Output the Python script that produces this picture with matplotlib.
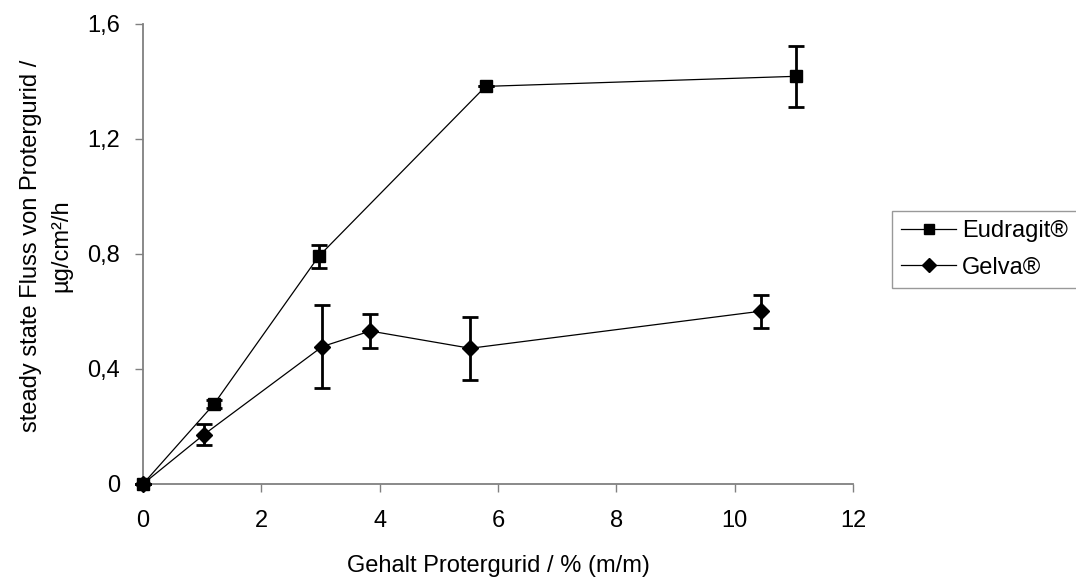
import matplotlib.pyplot as plt

plt.rcParams['font.family'] = ['Liberation Sans', 'DejaVu Sans']

# Steady-state Fluss in Abhängigkeit vom Wirkstoffgehalt
eudragit_x = [0.0, 1.2, 2.97, 5.79, 11.03]
eudragit_y = [0.0, 0.278, 0.792, 1.383, 1.418]
eudragit_err = [0.0, 0.015, 0.04, 0.0, 0.105]

gelva_x = [0.0, 1.03, 3.03, 3.84, 5.53, 10.44]
gelva_y = [0.0, 0.172, 0.478, 0.532, 0.472, 0.601]
gelva_err = [0.0, 0.037, 0.143, 0.058, 0.11, 0.057]

y_ticks = [0, 0.4, 0.8, 1.2, 1.6]
y_ticklabels = ['0', '0,4', '0,8', '1,2', '1,6']
x_ticks = [0, 2, 4, 6, 8, 10, 12]

fs = 17

fig = plt.figure(figsize=(10.76, 5.81), dpi=100)
ax = fig.add_axes([0.1329, 0.167, 0.66, 0.7917])

ax.errorbar(eudragit_x, eudragit_y, yerr=eudragit_err, color='black', lw=0.9,
            marker='s', markersize=8.5, elinewidth=2, capsize=6, capthick=2,
            label='Eudragit®', clip_on=False, zorder=3)
ax.errorbar(gelva_x, gelva_y, yerr=gelva_err, color='black', lw=0.9,
            marker='D', markersize=8, elinewidth=2, capsize=6, capthick=2,
            label='Gelva®', clip_on=False, zorder=3)

ax.set_xlim(0, 12)
ax.set_ylim(0, 1.6)
ax.set_xticks(x_ticks)
ax.set_yticks(y_ticks)
ax.set_yticklabels(y_ticklabels)

for side in ['top', 'right']:
    ax.spines[side].set_visible(False)
for side in ['left', 'bottom']:
    ax.spines[side].set_color('#808080')
    ax.spines[side].set_linewidth(1.3)

ax.tick_params(axis='both', direction='out', length=5.5, width=1, color='#808080',
               labelsize=fs)
ax.tick_params(axis='x', pad=13)
ax.tick_params(axis='y', pad=11)

ax.set_xlabel('Gehalt Protergurid / % (m/m)', fontsize=fs)
ax.xaxis.set_label_coords(0.5, -0.155)
ax.set_ylabel('steady state Fluss von Protergurid /\nµg/cm²/h', fontsize=fs,
              linespacing=1.45)
ax.yaxis.set_label_coords(-0.1, 0.517)

# Legende rechts neben dem Diagramm
handles, labels = ax.get_legend_handles_labels()
handles = [h[0] for h in handles]
leg = fig.legend(handles, labels, loc='upper left', bbox_to_anchor=(892 / 1076, 1 - 211 / 581),
                 fontsize=fs, frameon=True, fancybox=False, edgecolor='#808080',
                 handlelength=2.33, handletextpad=0.25, borderpad=0.4, labelspacing=0.6,
                 borderaxespad=0, markerscale=0.85)
leg.get_frame().set_linewidth(1.0)

fig.savefig('out.png', dpi=100)
